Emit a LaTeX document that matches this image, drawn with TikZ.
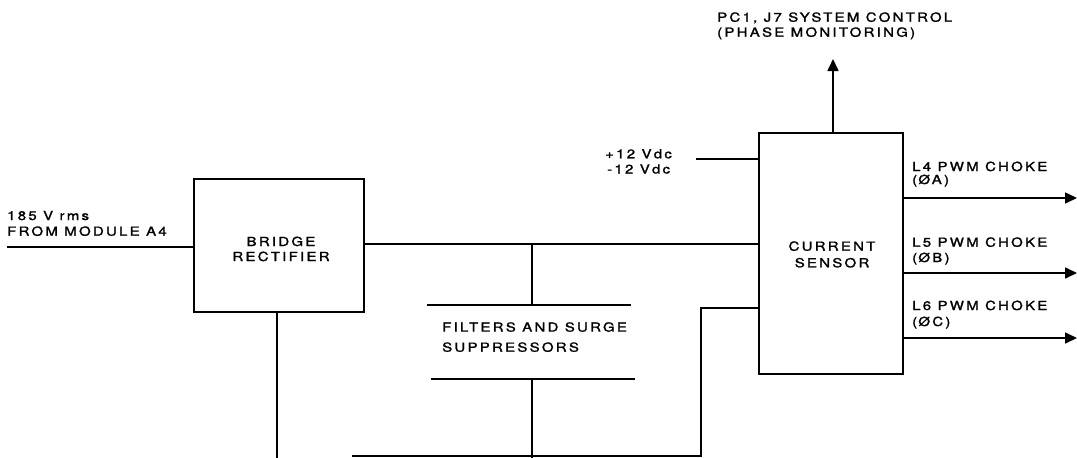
\documentclass[tikz,border=0pt]{standalone}
\usepackage{graphicx}
\usepackage{fontspec}
\setmainfont{TeX Gyre Heros}[LetterSpace=15,FakeBold=1.4]
\usetikzlibrary{arrows.meta}
\newcommand\widetxt[1]{\scalebox{1.2}[1]{#1}}
\begin{document}
\begin{tikzpicture}[x=1pt,y=-1pt,
  blk/.style={draw,line width=2.6pt,inner sep=0pt},
  wire/.style={line width=1.6pt},
  arr/.style={wire,-{Triangle[length=12pt,width=11pt]}},
  lbl/.style={inner sep=0pt,anchor=base west,font=\fontsize{12.5}{14}\selectfont},
  lblc/.style={lbl,anchor=base}]
\useasboundingbox (0,0) rectangle (1077,458);
% blocks
\node[blk,minimum width=170pt,minimum height=133pt] (bridge) at (279,245.5) {};
\node[blk,minimum width=144pt,minimum height=241pt] (sensor) at (831,253.5) {};
\node[inner sep=0pt,minimum width=204pt,minimum height=74pt] (filt) at (531,342) {};
% coordinates
\coordinate (in) at (7,247);
\coordinate (j1) at (532,244);
\coordinate (j2) at (701,308);
\coordinate (gnd) at (352,456);
\coordinate (b1) at (277,458);
\coordinate (f1) at (532,458);
\coordinate (pwr) at (696,159);
\coordinate (sys) at (833,59);
\coordinate (oA) at (1077,198);
\coordinate (oB) at (1077,273);
\coordinate (oC) at (1077,338);
% filter plates
\draw[wire] ([xshift=-2pt]filt.north west) -- ([xshift=-2pt]filt.north east);
\draw[wire] ([xshift=2pt]filt.south west) -- ([xshift=2pt]filt.south east);
% wires
\draw[wire] (in) -- (bridge.west |- in);
\draw[wire] (bridge.east |- j1) -- (sensor.west |- j1);
\draw[wire] (j1) -- (filt.north -| j1);
\draw[wire] (filt.south -| j1) -- (f1);
\draw[wire] (bridge.south -| b1) -- (b1);
\draw[wire] (gnd) -| (j2) -- (sensor.west |- j2);
\draw[wire] (pwr) -- (sensor.west |- pwr);
\draw[arr] (sensor.north -| sys) -- (sys);
\draw[arr] (sensor.east |- oA) -- (oA);
\draw[arr] (sensor.east |- oB) -- (oB);
\draw[arr] (sensor.east |- oC) -- (oC);
% labels
\node[lbl] (t185) at (7,220) {\widetxt{185 V rms}};
\node[lbl] (tfrom) at (7,235.7) {\widetxt{FROM MODULE A4}};
\node[lblc] (tbr) at (281,246) {\widetxt{BRIDGE}};
\node[lblc] (trec) at (281,261) {\widetxt{RECTIFIER}};
\node[lbl] (tfil) at (442,331.6) {\widetxt{FILTERS AND SURGE}};
\node[lbl] (tsup) at (442,351.7) {\widetxt{SUPPRESSORS}};
\node[lblc] (tcur) at (832,250.7) {\widetxt{CURRENT}};
\node[lblc] (tsen) at (832,267.3) {\widetxt{SENSOR}};
\node[lbl] (tp12) at (605,158.3) {\widetxt{+12 Vdc}};
\node[lbl] (tm12) at (607,173.5) {\widetxt{-12 Vdc}};
\node[lbl] (tpc) at (717,21.7) {\widetxt{PC1, J7 SYSTEM CONTROL}};
\node[lbl] (tpm) at (717,36.7) {\widetxt{(PHASE MONITORING)}};
\node[lbl] (tL4) at (912,171) {\widetxt{L4 PWM CHOKE}};
\node[lbl] (tA) at (912,184) {\widetxt{(\kern1pt ØA)}};
\node[lbl] (tL5) at (912,246.7) {\widetxt{L5 PWM CHOKE}};
\node[lbl] (tB) at (912,262) {\widetxt{(\kern1pt ØB)}};
\node[lbl] (tL6) at (912,310) {\widetxt{L6 PWM CHOKE}};
\node[lbl] (tC) at (912,326) {\widetxt{(\kern1pt ØC)}};
\end{tikzpicture}
\end{document}
